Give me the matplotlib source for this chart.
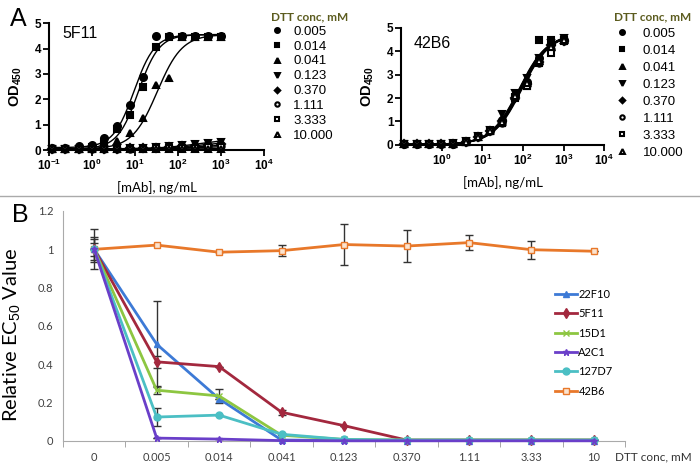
import numpy as np
import matplotlib.pyplot as plt
from matplotlib.lines import Line2D
plt.switch_backend('Agg')
plt.rcParams['font.family'] = ['Liberation Sans', 'DejaVu Sans']
plt.rcParams['mathtext.fontset'] = 'custom'
plt.rcParams['mathtext.rm'] = 'Liberation Sans'
plt.rcParams['mathtext.bf'] = 'Liberation Sans:bold'

# ---- panel A data ----
conc = [0.12, 0.24, 0.49, 0.98, 1.95, 3.91, 7.81, 15.63, 31.25, 62.5, 125, 250, 500, 1000]
dtt_labels = ['0.005', '0.014', '0.041', '0.123', '0.370', '1.111', '3.333', '10.000']

f11_005 = [0.08, 0.10, 0.15, 0.22, 0.49, 0.93, 1.79, 2.87, 4.50, 4.50, 4.50, 4.50, 4.50, 4.48]
f11_014 = [0.05, 0.05, 0.06, 0.12, 0.30, 0.85, 1.40, 2.47, 4.07, 4.45, 4.47, 4.47, 4.47, 4.45]
f11_041 = [0.05, 0.05, 0.06, 0.08, 0.18, 0.34, 0.69, 1.26, 2.55, 2.84, 4.45, 4.47, 4.47, 4.47]
f11_123 = [0.05, 0.05, 0.05, 0.06, 0.06, 0.07, 0.08, 0.10, 0.12, 0.15, 0.20, 0.24, 0.28, 0.33]
f11_370 = [0.05, 0.05, 0.05, 0.05, 0.06, 0.06, 0.07, 0.08, 0.10, 0.12, 0.15, 0.18, 0.21, 0.25]
f11_1111 = [0.04, 0.04, 0.04, 0.05, 0.05, 0.05, 0.06, 0.07, 0.08, 0.10, 0.12, 0.14, 0.16, 0.18]
f11_3333 = [0.04, 0.04, 0.04, 0.04, 0.05, 0.05, 0.05, 0.06, 0.07, 0.08, 0.09, 0.10, 0.11, 0.12]
f11_10 = [0.03, 0.03, 0.03, 0.03, 0.04, 0.04, 0.04, 0.04, 0.05, 0.05, 0.05, 0.05, 0.06, 0.06]
# 4PL fit parameters per DTT concentration
f11_ec50 = [9.5, 12, 33, 300, 350, 400, 500, 600]
f11_hill = [1.8, 1.8, 1.5, 1.0, 1.0, 1.0, 1.0, 1.0]
f11_bottom = [0.1, 0.05, 0.05, 0.05, 0.05, 0.04, 0.04, 0.03]
f11_top = [4.55, 4.55, 4.55, 0.45, 0.35, 0.25, 0.18, 0.08]

b6_005 = [0.02, 0.02, 0.02, 0.03, 0.05, 0.15, 0.36, 0.63, 1.05, 2.15, 2.70, 3.70, 4.30, 4.50]
b6_014 = [0.02, 0.02, 0.02, 0.03, 0.05, 0.13, 0.34, 0.60, 0.95, 2.05, 2.50, 4.47, 4.47, 4.47]
b6_041 = [0.02, 0.02, 0.02, 0.03, 0.05, 0.12, 0.33, 0.62, 1.10, 2.10, 2.75, 3.60, 4.20, 4.50]
b6_123 = [0.02, 0.02, 0.02, 0.03, 0.06, 0.15, 0.36, 0.64, 1.30, 2.20, 2.85, 3.70, 4.35, 4.55]
b6_370 = [0.02, 0.02, 0.02, 0.03, 0.05, 0.14, 0.35, 0.61, 1.00, 2.00, 2.60, 3.55, 4.25, 4.45]
b6_1111 = [0.02, 0.02, 0.02, 0.03, 0.05, 0.12, 0.32, 0.60, 0.95, 2.10, 2.55, 3.50, 4.10, 4.45]
b6_3333 = [0.02, 0.02, 0.02, 0.03, 0.05, 0.13, 0.33, 0.58, 0.92, 2.00, 2.50, 3.50, 3.93, 4.45]
b6_10 = [0.02, 0.02, 0.02, 0.03, 0.05, 0.14, 0.34, 0.60, 0.97, 2.10, 2.65, 3.60, 4.20, 4.50]
b6_ec50 = [85, 80, 88, 82, 90, 92, 95, 86]
b6_hill = [1.25, 1.25, 1.25, 1.25, 1.25, 1.25, 1.25, 1.25]

# ---- panel B data ----
dtt_cats = ['0', '0.005', '0.014', '0.041', '0.123', '0.370', '1.11', '3.33', '10']
mab_names = ['22F10', '5F11', '15D1', 'A2C1', '127D7', '42B6']
ec_22f10 = [1.0, 0.505, 0.22, 0.005, 0.003, 0.002, 0.002, 0.002, 0.002]
ec_5f11 = [1.0, 0.413, 0.388, 0.15, 0.08, 0.005, 0.005, 0.005, 0.005]
ec_15d1 = [1.0, 0.265, 0.235, 0.03, 0.008, 0.005, 0.005, 0.005, 0.005]
ec_a2c1 = [1.0, 0.015, 0.01, 0.002, 0.001, 0.001, 0.001, 0.001, 0.001]
ec_127d7 = [1.0, 0.125, 0.135, 0.035, 0.008, 0.005, 0.005, 0.005, 0.005]
ec_42b6 = [1.0, 1.022, 0.985, 0.993, 1.025, 1.017, 1.035, 0.998, 0.99]
err_22f10 = [0.065, 0.225, 0.0, 0, 0, 0, 0, 0, 0]
err_5f11 = [0.035, 0.03, 0, 0.013, 0, 0, 0, 0, 0]
err_15d1 = [0.056, 0.02, 0.037, 0, 0, 0, 0, 0, 0]
err_a2c1 = [0, 0, 0, 0, 0, 0, 0, 0, 0]
err_127d7 = [0, 0.045, 0, 0, 0, 0, 0, 0, 0]
err_42b6 = [0.105, 0, 0, 0.03, 0.105, 0.085, 0.04, 0.047, 0]


def fourpl(x, bottom, top, ec50, hill):
    return bottom + (top - bottom) / (1 + (ec50 / x) ** hill)


fig = plt.figure(figsize=(7, 4.72), dpi=100)

mk = ['o', 's', '^', 'v', 'D', 'o', 's', '^']
mfill = [True, True, True, True, True, False, False, False]
msz = [5, 5, 5, 5, 4, 4.5, 4.5, 5]
xfit = np.logspace(np.log10(0.12), 3, 200)


def panel_a(ax, series, ec50, hill, bottom, top, name, xlabels):
    for i, ys in enumerate(series):
        ax.plot(xfit, fourpl(xfit, bottom[i], top[i], ec50[i], hill[i]), color='black', lw=1)
    for i, ys in enumerate(series):
        ax.plot(conc, ys, linestyle='none', marker=mk[i], ms=msz[i],
                mfc='black' if mfill[i] else 'white', mec='black', mew=1.5,
                clip_on=False, label=dtt_labels[i])
    ax.set_xscale('log')
    ax.set_xlim(0.1, 1e4)
    ax.set_ylim(0, 5)
    ticks = [0.1, 1, 10, 100, 1000, 10000] if xlabels else [1, 10, 100, 1000, 10000]
    ax.set_xticks(ticks)
    ax.set_xticklabels(['$\\mathbf{10^{%d}}$' % int(np.log10(t)) for t in ticks], fontsize=8.5)
    ax.minorticks_off()
    ax.set_yticks([0, 1, 2, 3, 4, 5])
    ax.set_yticklabels(['0', '1', '2', '3', '4', '5'], fontweight='bold', fontsize=8.5)
    for s in ['top', 'right']:
        ax.spines[s].set_visible(False)
    for s in ['left', 'bottom']:
        ax.spines[s].set_linewidth(1.5)
    ax.tick_params(width=1.3, length=4, pad=1.5)
    ax.set_ylabel('OD$_{\\mathbf{450}}$', fontweight='bold', fontsize=10.5, labelpad=8)
    ax.set_xlabel('[mAb], ng/mL', fontsize=9.5, family=['Lato', 'DejaVu Sans'], labelpad=6)
    ax.text(0.06, 0.92 if xlabels else 0.87, name, transform=ax.transAxes, fontsize=11.5,
            va='center')


def style_legend(leg):
    t = leg.get_title()
    t.set_color('#5c5c1f')
    t.set_fontweight('bold')
    t.set_family(['Lato', 'DejaVu Sans'])


ax1 = fig.add_axes([0.07, 0.682, 0.307, 0.269])
panel_a(ax1, [f11_005, f11_014, f11_041, f11_123, f11_370, f11_1111, f11_3333, f11_10],
        f11_ec50, f11_hill, f11_bottom, f11_top, '5F11', True)
leg1 = ax1.legend(loc='upper left', bbox_to_anchor=(0.387, 0.975), bbox_transform=fig.transFigure,
                  frameon=False, fontsize=9.5, title='DTT conc, mM', title_fontsize=8.5,
                  labelspacing=0.2, handletextpad=0.7, handlelength=1.0, alignment='left',
                  borderaxespad=0, borderpad=0, markerscale=0.7)
style_legend(leg1)

ax2 = fig.add_axes([0.573, 0.693, 0.29, 0.248])
panel_a(ax2, [b6_005, b6_014, b6_041, b6_123, b6_370, b6_1111, b6_3333, b6_10],
        b6_ec50, b6_hill, [0.02] * 8, [4.75] * 8, '42B6', False)
leg2 = ax2.legend(loc='upper left', bbox_to_anchor=(0.877, 0.975), bbox_transform=fig.transFigure,
                  frameon=False, fontsize=9.5, title='DTT conc, mM', title_fontsize=8.5,
                  labelspacing=0.36, handletextpad=0.9, handlelength=1.3, alignment='left',
                  borderaxespad=0, borderpad=0, markerscale=0.7)
style_legend(leg2)

fig.text(0.014, 0.96, 'A', fontsize=18, va='center')
fig.add_artist(Line2D([0, 1], [0.585, 0.585], color='#aaaaaa', lw=1))
fig.text(0.017, 0.545, 'B', fontsize=18, va='center')

# ---- panel B ----
axb = fig.add_axes([0.09, 0.0657, 0.803, 0.4873])
xpos = np.arange(len(dtt_cats))
colors = ['#3d7ad6', '#a3283e', '#8dc641', '#6a3fc9', '#4bbfc4', '#e8782a']
bmk = ['^', 'd', 'x', '*', 'o', 's']
bvals = [ec_22f10, ec_5f11, ec_15d1, ec_a2c1, ec_127d7, ec_42b6]
berrs = [err_22f10, err_5f11, err_15d1, err_a2c1, err_127d7, err_42b6]
for i in range(6):
    axb.errorbar(xpos, bvals[i], yerr=berrs[i], fmt='none', ecolor='#333333',
                 elinewidth=1, capsize=3, capthick=1, zorder=1)
for i in [5, 0, 1, 2, 4, 3]:
    mfc = '#fbe3cf' if bmk[i] == 's' else colors[i]
    axb.plot(xpos, bvals[i], color=colors[i], lw=2, marker=bmk[i], ms=5,
             mfc=mfc, mec=colors[i], mew=1, label=mab_names[i], zorder=3, clip_on=False)
axb.set_xlim(-0.5, 8.5)
axb.set_ylim(0, 1.2)
axb.set_yticks([0, 0.2, 0.4, 0.6, 0.8, 1.0, 1.2])
axb.set_yticklabels(['0', '0.2', '0.4', '0.6', '0.8', '1', '1.2'])
axb.set_xticks(xpos)
axb.set_xticklabels(dtt_cats)
axb.set_xticks(np.arange(-0.5, 9, 1), minor=True)
axb.tick_params(axis='x', which='major', length=0, pad=8)
axb.tick_params(axis='x', which='minor', length=4, color='#999999')
axb.tick_params(axis='y', length=0, pad=7)
for lab in axb.get_xticklabels() + axb.get_yticklabels():
    lab.set_family(['Lato', 'DejaVu Sans'])
    lab.set_fontsize(8)
    lab.set_color('#404040')
for s in ['top', 'right']:
    axb.spines[s].set_visible(False)
for s in ['left', 'bottom']:
    axb.spines[s].set_color('#aaaaaa')
axb.set_ylabel('Relative EC$_{50}$ Value', fontsize=14.5, labelpad=5,
               family=['Lato', 'DejaVu Sans'])
axb.yaxis.set_label_coords(-0.072, 0.46)
handles, labels = axb.get_legend_handles_labels()
order = [labels.index(n) for n in mab_names]
axb.legend([handles[k] for k in order], mab_names, loc='upper left',
           bbox_to_anchor=(0.793, 0.388), bbox_transform=fig.transFigure, frameon=False,
           prop={'family': ['Lato', 'DejaVu Sans'], 'size': 8}, labelspacing=0.75,
           handlelength=2.0, handletextpad=0.1, borderaxespad=0, borderpad=0)
fig.text(0.879, 1 - 457 / 472, 'DTT conc, mM', fontsize=8.5, va='center',
         family=['Lato', 'DejaVu Sans'], color='#333333')

fig.savefig('out.png', dpi=100)
